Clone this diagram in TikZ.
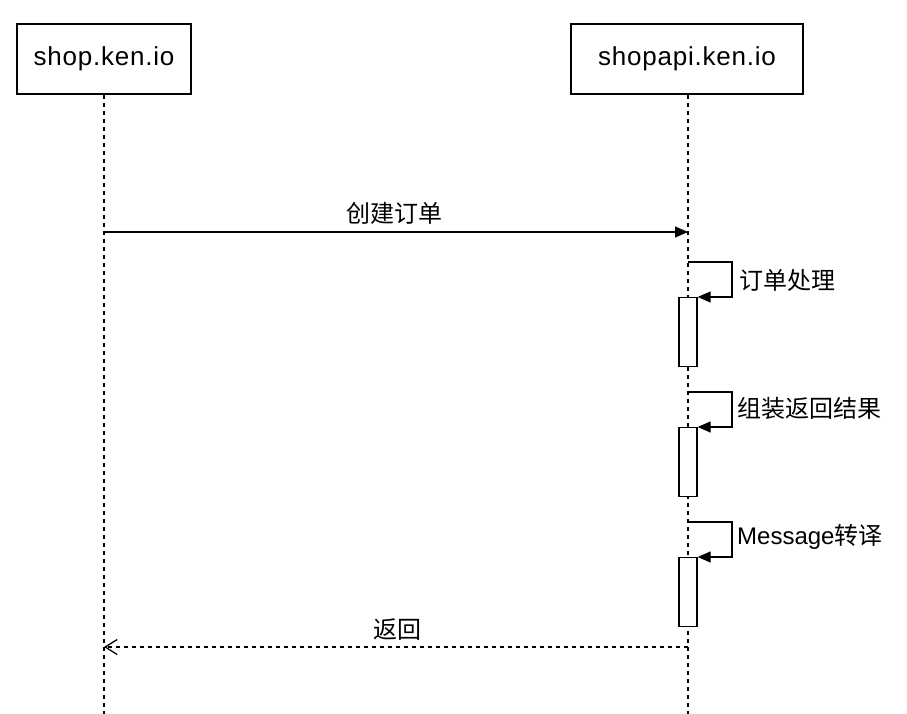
\documentclass[tikz,border=0pt]{standalone}
\usepackage{fontspec}
\setmainfont{Liberation Sans}
\newfontfamily\cjk{Noto Sans CJK SC}
\usetikzlibrary{arrows.meta}
\tikzset{
  actor/.style={draw, line width=1.5pt, fill=white, minimum height=70pt, inner sep=0pt,
    font=\fontsize{26}{30}\selectfont\addfontfeatures{LetterSpace=3}},
  lifeline/.style={line width=1.3pt, dash pattern=on 4pt off 4pt},
  act/.style={draw, line width=1.3pt, fill=white, minimum width=18pt, minimum height=69pt, inner sep=0pt, anchor=north},
  msg/.style={line width=1.3pt, -{Triangle[length=13pt,width=11pt]}},
  ret/.style={line width=1.3pt, dash pattern=on 4pt off 4pt, -{Straight Barb[length=12pt,width=15pt,line width=1.3pt]}},
  lbl/.style={font=\fontsize{24}{28}\selectfont\cjk, inner sep=0pt},
  selflbl/.style={lbl, anchor=west},
}
\begin{document}
\begin{tikzpicture}[x=1pt,y=-1pt]
\useasboundingbox (0,0) rectangle (907,714);
% actors
\node[actor, minimum width=174pt] (A) at (104,59) {shop.ken.io};
\node[actor, minimum width=232pt] (B) at (687,59) {shopapi.ken.io};
\coordinate (Abot) at (104,714);
\coordinate (Bbot) at (688,714);
% lifelines
\draw[lifeline] (A.south) -- (Abot);
\draw[lifeline] (B.south -| Bbot) -- (Bbot);
% activation boxes
\node[act] (act1) at (688,297) {};
\node[act] (act2) at (688,427) {};
\node[act] (act3) at (688,557) {};
% message 1
\coordinate (m1a) at (104,232);
\coordinate (m1b) at (688,232);
\draw[msg] (m1a) -- (m1b);
\node[lbl] (l1) at (394.5,213) {创建订单};
% self messages
\coordinate (s1) at (688,262);
\coordinate (s2) at (688,392);
\coordinate (s3) at (688,522);
\draw[msg] (s1) -- ++(44,0) |- (act1.north east);
\draw[msg] (s2) -- ++(44,0) |- (act2.north east);
\draw[msg] (s3) -- ++(44,0) |- (act3.north east);
\node[selflbl] (l2) at (739,280) {订单处理};
\node[selflbl] (l3) at (737,408) {组装返回结果};
\node[selflbl] (l4) at (737,537) {{\fontspec{Liberation Sans}Message}转译};
% return
\coordinate (r1) at (104,647);
\coordinate (r2) at (688,647);
\draw[ret] (r2) -- (r1);
\node[lbl] (l5) at (397,630) {返回};
\end{tikzpicture}
\end{document}
